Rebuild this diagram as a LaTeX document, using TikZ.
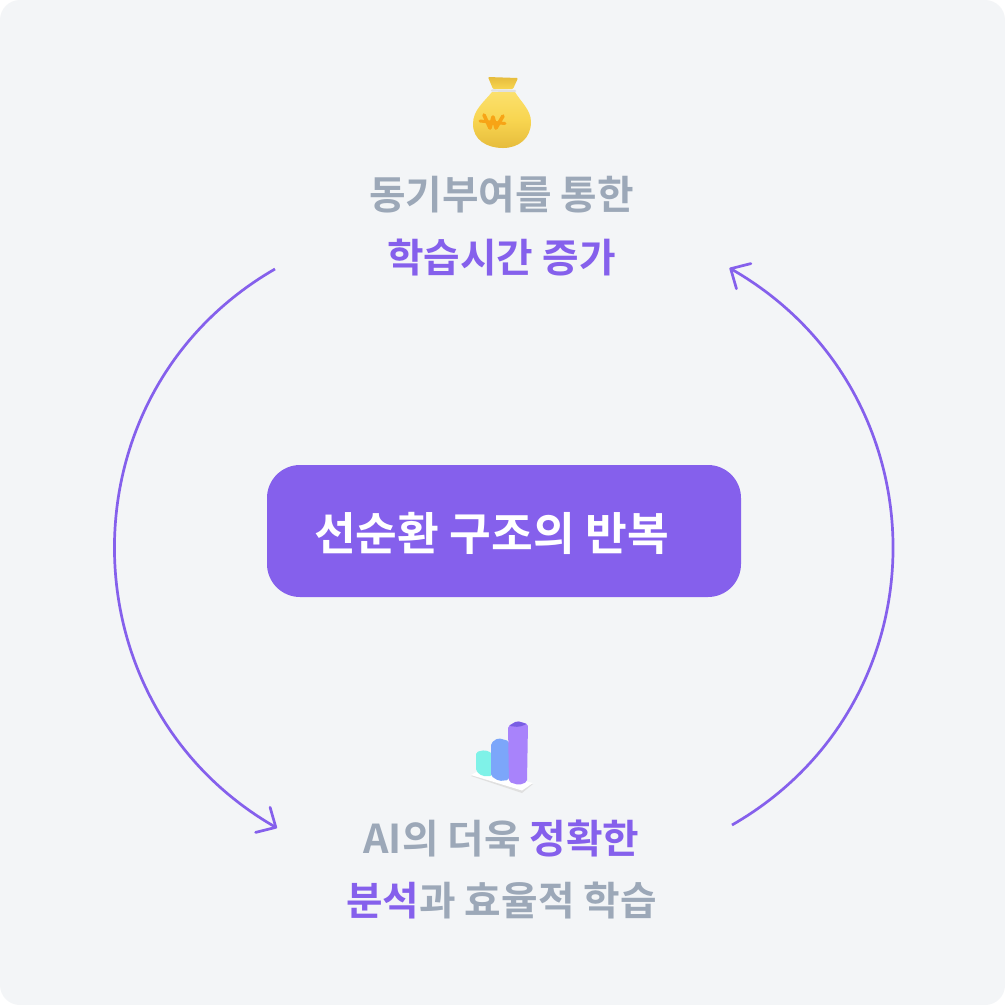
\documentclass[tikz,border=0pt]{standalone}
\usepackage{fontspec}
\setmainfont{Noto Sans CJK KR}[BoldFont={Noto Sans CJK KR Bold}]
\usetikzlibrary{arrows.meta}
\definecolor{panelgray}{HTML}{F3F5F7}
\definecolor{cyclepurple}{HTML}{8560EC}
\definecolor{labelgray}{HTML}{9CA8B8}
\definecolor{baglight}{HTML}{FBE06C}
\definecolor{bagmid}{HTML}{F8D550}
\definecolor{bagdark}{HTML}{E6BC3C}
\definecolor{wonorange}{HTML}{F7A416}
\definecolor{barteal}{HTML}{7FF2E8}
\definecolor{barblue}{HTML}{7CA6FA}
\definecolor{barviolet}{HTML}{A883FB}
\tikzset{
  cycleline/.style = {draw = cyclepurple, line width = 0.027cm, -{Straight Barb[length = 0.15cm, width = 0.29cm, round]}},
  cyclelabel/.style = {text = labelgray, font = \fontsize{11.3}{13}\selectfont\bfseries, inner sep = 0},
}
\newcommand{\hl}[1]{\textcolor{cyclepurple}{#1}}
\begin{document}
\begin{tikzpicture}[x = 0.01cm, y = -0.01cm]
\fill[white] (0,0) rectangle (1005,1005);
\fill[panelgray, rounded corners = 0.2cm] (0,0) rectangle (1005,1005);
\useasboundingbox (0,0) rectangle (1005,1005);
% centre box
\fill[cyclepurple, rounded corners = 0.33cm] (267,465) rectangle (741,597);
\node[text = white, font = \fontsize{12.9}{15}\selectfont\bfseries, inner sep = 0] (centre) at (491.5,533) {선순환 구조의 반복};
% labels
\node[cyclelabel] (topone) at (501.5,195) {동기부여를 통한};
\node[cyclelabel] (toptwo) at (501.5,258) {\hl{학습시간 증가}};
\node[cyclelabel] (botone) at (501.5,838.5) {AI의 더욱 \hl{정확한}};
\node[cyclelabel] (bottwo) at (501.5,900.5) {\hl{분석}과 효율적 학습};
% cycle arcs
\coordinate (lefttop) at (275,269);
\coordinate (leftbot) at (277,828);
\coordinate (rightbot) at (732,825);
\coordinate (righttop) at (729.5,268);
\draw[cycleline] (lefttop) .. controls +(-215,124) and +(-215,-124) .. (leftbot);
\draw[cycleline] (rightbot) .. controls +(216,-124) and +(216,124) .. (righttop);
% money bag
\shade[top color = baglight, bottom color = bagdark, middle color = bagmid]
  (492,92) .. controls (484,102) and (473,110) .. (473,124) .. controls (473,140) and (487,148) .. (503,148)
  .. controls (519,148) and (531,138) .. (531,122) .. controls (531,110) and (521,102) .. (515,92) -- cycle;
\shade[top color = bagdark, bottom color = bagmid, rounded corners = 0.01cm] (488,77) -- (518,78) -- (513,89) -- (493,89) -- cycle;
\draw[white!88!black, line width = 0.022cm, line cap = round] (492,90.5) -- (515,91);
\draw[wonorange, line width = 0.036cm, line cap = round, line join = round]
  (484,115) -- (490,128) -- (493,117) -- (496,128) -- (503,116);
\draw[wonorange, line width = 0.03cm, line cap = round] (480,121) -- (505,123.5);
% bar chart
\fill[white!88!black] (471,776) -- (480,771) -- (533,784) -- (522,793) -- cycle;
\fill[white] (471,775) -- (480,770) -- (533,783) -- (522,790.5) -- cycle;
\fill[barteal, rounded corners = 0.02cm] (476,752) -- (485,750) -- (492,753) -- (492,776) -- (482,776) -- (476,771) -- cycle;
\fill[barblue, rounded corners = 0.02cm] (491,743) -- (498,738) -- (509,741) -- (509,780) -- (499,781) -- (491,776) -- cycle;
\fill[barviolet, rounded corners = 0.02cm] (508,726) -- (517,721) -- (528,724) -- (527,782) -- (519,785) -- (509,782) -- cycle;
\fill[barviolet!80!blue!90!black, rounded corners = 0.02cm] (509,726) -- (517,721) -- (527,724) -- (519,727) -- cycle;
\end{tikzpicture}
\end{document}
